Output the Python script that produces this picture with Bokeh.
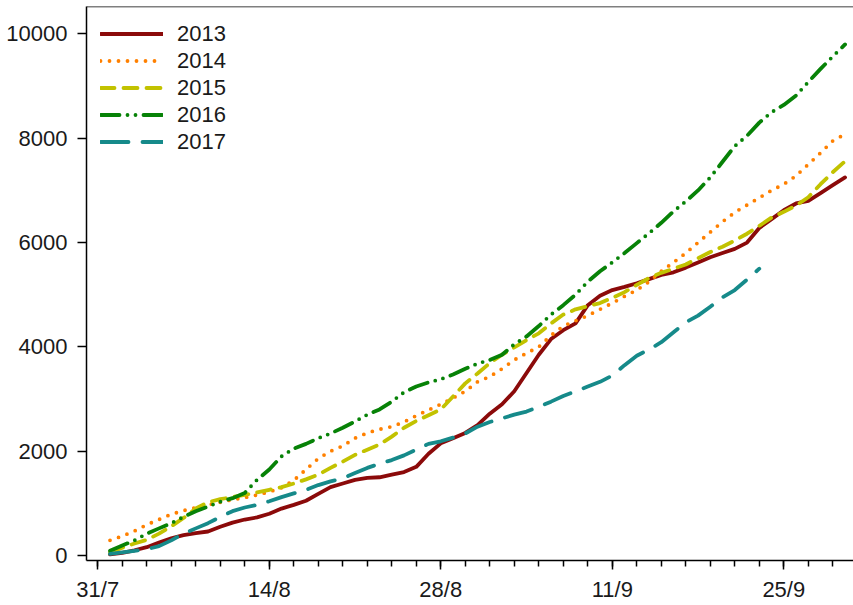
from bokeh.plotting import figure
from bokeh.models import FixedTicker, Range1d, Span
from bokeh.embed import file_html
from bokeh.resources import INLINE

# days after 31 July
days = list(range(1, 62))
days_2017 = list(range(1, 55))

v2013 = [20, 50, 100, 160, 250, 330, 390, 430, 460, 550, 630, 690, 730, 800, 900, 970,
         1050, 1180, 1310, 1380, 1450, 1490, 1500, 1550, 1600, 1700, 1950, 2150, 2250, 2350,
         2500, 2720, 2900, 3150, 3500, 3850, 4150, 4320, 4450, 4800, 4980, 5090, 5150, 5220,
         5300, 5380, 5430, 5520, 5620, 5720, 5800, 5880, 6000, 6280, 6450, 6620, 6750, 6800,
         6950, 7100, 7250]
v2014 = [290, 370, 470, 590, 690, 790, 860, 920, 970, 1020, 1070, 1110, 1160, 1220, 1300,
         1440, 1650, 1860, 2000, 2100, 2250, 2350, 2420, 2470, 2560, 2680, 2790, 2900, 3020,
         3150, 3330, 3430, 3580, 3750, 3880, 4000, 4220, 4400, 4500, 4600, 4720, 4840, 4970,
         5090, 5250, 5450, 5620, 5800, 6000, 6200, 6400, 6580, 6720, 6860, 7000, 7120, 7280,
         7500, 7720, 7950, 8080]
v2015 = [60, 150, 230, 300, 420, 560, 720, 900, 1020, 1080, 1120, 1160, 1210, 1260, 1310,
         1380, 1460, 1550, 1680, 1800, 1930, 2030, 2130, 2280, 2450, 2580, 2690, 2800, 3050,
         3300, 3490, 3690, 3850, 3990, 4130, 4260, 4450, 4620, 4720, 4780, 4840, 4940, 5050,
         5190, 5320, 5420, 5500, 5580, 5700, 5820, 5920, 6040, 6170, 6320, 6480, 6590, 6710,
         6870, 7120, 7350, 7560]
v2016 = [90, 190, 290, 420, 520, 620, 740, 850, 940, 1030, 1100, 1200, 1450, 1650, 1900,
         2050, 2140, 2250, 2340, 2450, 2570, 2700, 2800, 2950, 3130, 3240, 3320, 3380, 3470,
         3580, 3680, 3750, 3850, 4050, 4200, 4400, 4620, 4800, 5000, 5250, 5450, 5620, 5800,
         5990, 6180, 6380, 6600, 6790, 7000, 7250, 7550, 7850, 8050, 8300, 8500, 8640, 8820,
         9080, 9330, 9570, 9800]
v2017 = [30, 60, 90, 120, 180, 290, 420, 520, 620, 740, 850, 920, 970, 1040, 1120, 1190,
         1260, 1350, 1420, 1480, 1580, 1680, 1760, 1830, 1920, 2030, 2140, 2190, 2260, 2340,
         2470, 2560, 2630, 2700, 2760, 2850, 2950, 3060, 3150, 3240, 3330, 3450, 3650, 3830,
         3950, 4090, 4280, 4470, 4600, 4770, 4950, 5090, 5290, 5500]

tick_days = [0, 14, 28, 42, 56]
tick_labels = ["31/7", "14/8", "28/8", "11/9", "25/9"]
y_ticks = [0, 2000, 4000, 6000, 8000, 10000]

FONT = "Liberation Sans"
TXT = "#1a1a1a"

p = figure(width=853, height=605, output_backend="svg", toolbar_location=None,
           x_range=Range1d(-0.92, 61.69), y_range=Range1d(-96, 10527),
           min_border_left=86, min_border_right=0, min_border_top=6, min_border_bottom=45)
p.grid.visible = False
p.outline_line_color = None
p.background_fill_color = "white"
p.border_fill_color = "white"

series = [
    ("2013", days, v2013, "#8B0A0A", "solid"),
    ("2014", days, v2014, "#FF8000", "0 9"),
    ("2015", days, v2015, "#C2C200", "14 9"),
    ("2016", days, v2016, "#078207", "19 8 0 8 0 8"),
    ("2017", days_2017, v2017, "#168A8A", "28 14"),
]
for name, xs, ys, col, dash in series:
    p.line(xs, ys, line_color=col, line_width=3.8, line_dash=dash,
           line_cap="round", line_join="round", legend_label=name)

xa = p.xaxis[0]
xa.ticker = FixedTicker(ticks=tick_days, minor_ticks=list(range(0, 61, 2)))
xa.major_label_overrides = {d: l for d, l in zip(tick_days, tick_labels)}
ya = p.yaxis[0]
ya.ticker = FixedTicker(ticks=y_ticks)
ya.minor_tick_line_color = None

for ax in (xa, ya):
    ax.axis_line_color = "black"
    ax.axis_line_width = 1.5
    ax.major_tick_line_color = "black"
    ax.major_tick_line_width = 1.5
    ax.major_tick_in = 0
    ax.major_tick_out = 9
    ax.major_label_text_font = FONT
    ax.major_label_text_font_size = "22px"
    ax.major_label_text_color = TXT
xa.minor_tick_line_color = "black"
xa.minor_tick_line_width = 1.5
xa.minor_tick_in = 0
xa.minor_tick_out = 6
xa.major_label_standoff = 7
ya.major_label_standoff = 10

top = Span(location=10527, dimension="width", line_color="black", line_width=1.5)
p.add_layout(top)

lg = p.legend[0]
lg.location = "top_left"
lg.border_line_color = None
lg.background_fill_alpha = 0
lg.label_text_font = FONT
lg.label_text_font_size = "22px"
lg.label_text_color = TXT
lg.glyph_width = 63
lg.glyph_height = 27
lg.label_height = 27
lg.spacing = 0
lg.padding = 10
lg.margin = 14
lg.label_standoff = 14

open("out.html", "w").write(file_html(p, INLINE))
